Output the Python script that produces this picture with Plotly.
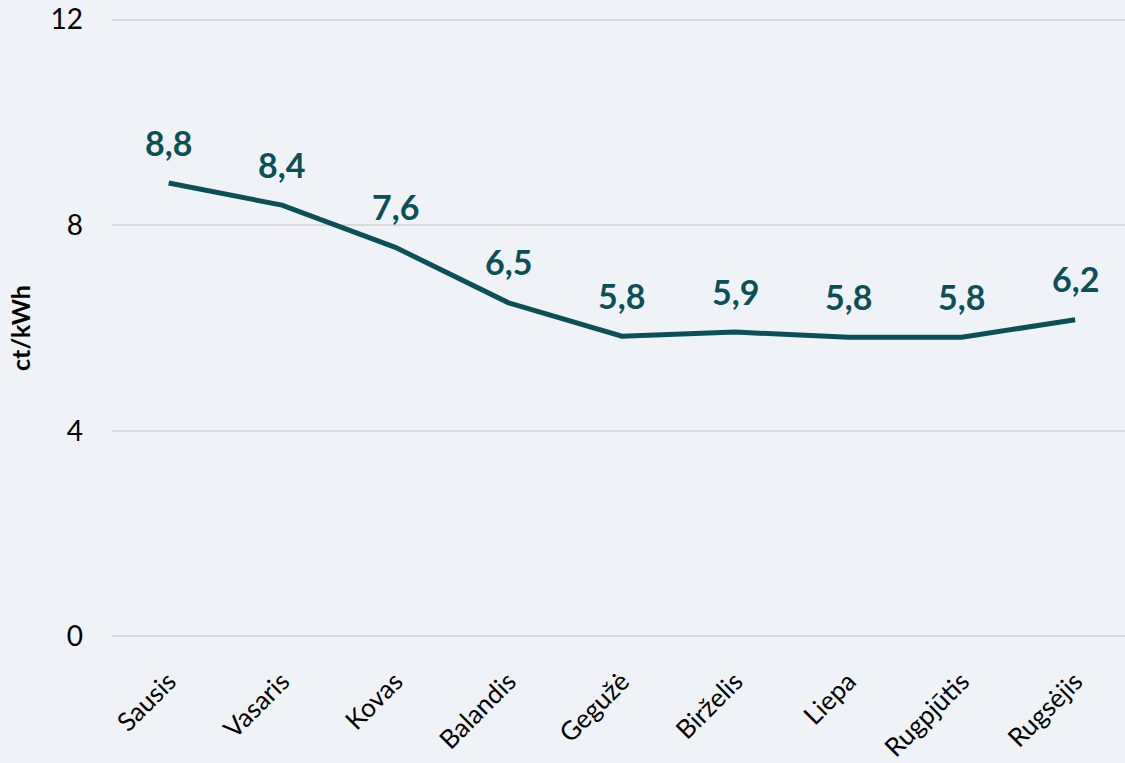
import plotly.graph_objects as go

months = ["Sausis", "Vasaris", "Kovas", "Balandis", "Gegužė", "Birželis", "Liepa", "Rugpjūtis", "Rugsėjis"]
prices = [8.82, 8.39, 7.57, 6.49, 5.84, 5.92, 5.82, 5.82, 6.16]
y_ticks = [0, 4, 8, 12]

line_color = "#0b4f57"
bg = "#eff3f7"

fig = go.Figure()
fig.add_trace(go.Scatter(
    x=months, y=prices, mode="lines",
    line=dict(color=line_color, width=5),
    hoverinfo="skip",
))
for m, v in zip(months, prices):
    fig.add_annotation(
        x=m, y=v, text=f"{v:.1f}".replace(".", ","), showarrow=False,
        yshift=41, font=dict(family="Lato", size=34, color=line_color, weight="bold"),
    )

fig.update_layout(
    width=1125, height=763,
    paper_bgcolor=bg, plot_bgcolor=bg,
    margin=dict(l=112, r=0, t=18, b=125),
    showlegend=False,
    font=dict(family="Lato", size=27, color="#000000"),
    xaxis=dict(
        type="category", range=[-0.5, 8.44], tickangle=-45, automargin=False,
        showgrid=False, showline=False, zeroline=False,
        ticks="outside", ticklen=17, tickcolor="rgba(0,0,0,0)",
        tickfont=dict(family="Lato", size=26),
    ),
    yaxis=dict(
        range=[-0.03, 12.03], tickvals=y_ticks, showgrid=True, automargin=False,
        gridcolor="#d9d9d9", gridwidth=2, zeroline=False, showline=False,
        ticklabelstandoff=28,
        tickfont=dict(family="Lato", size=28),
        title=dict(text="<b>ct/kWh</b>", font=dict(family="Lato", size=25), standoff=12),
    ),
)
fig.write_html("out.html", config={"displayModeBar": False},
               post_script="document.body.style.margin='0';document.body.style.overflow='hidden';"
                           "document.body.style.background='%s';" % bg)
